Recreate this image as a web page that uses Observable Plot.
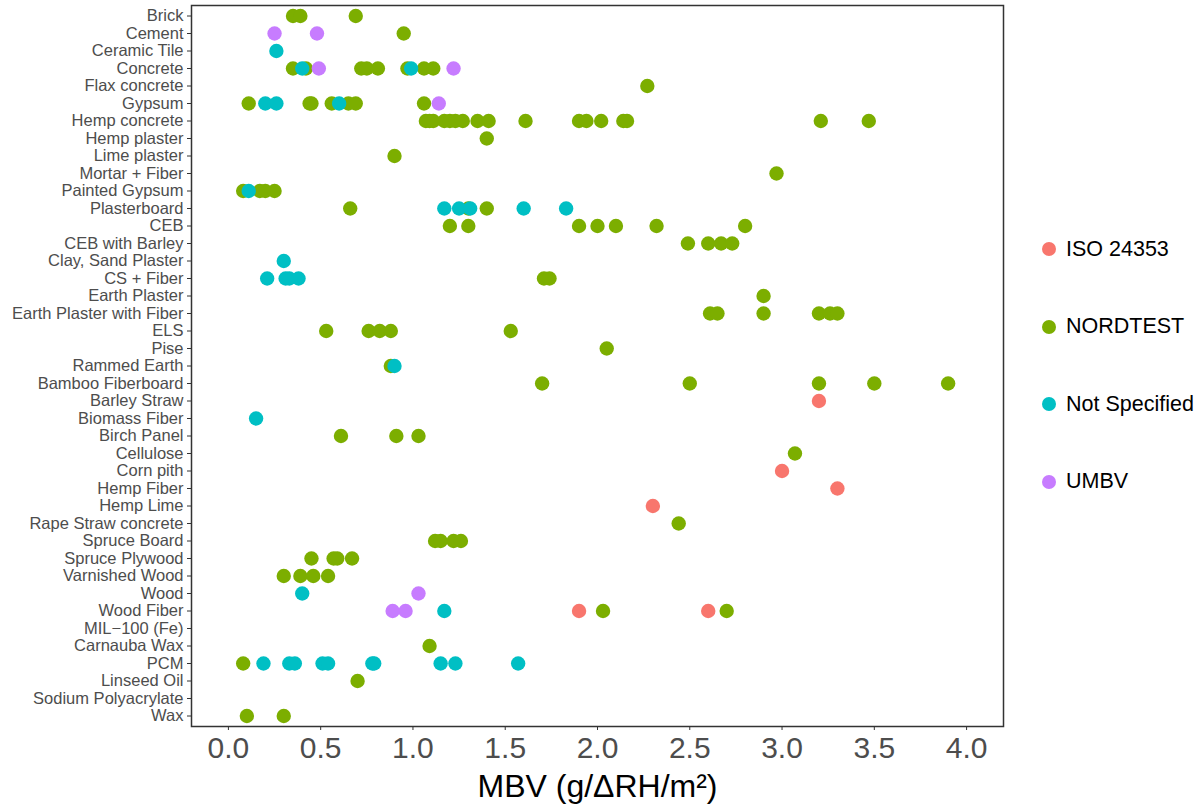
<!DOCTYPE html>
<html>
<head>
<meta charset="utf-8">
<script src="https://cdn.jsdelivr.net/npm/d3@7"></script>
<script src="https://cdn.jsdelivr.net/npm/@observablehq/plot@0.6"></script>
<style>
  html, body { margin: 0; padding: 0; background: #fff; }
  #wrap { position: relative; width: 1203px; height: 811px; font-family: "Liberation Sans", Arial, Helvetica, sans-serif; }
  #wrap svg [aria-label="y-axis tick label"] text,
  #wrap svg [aria-label="x-axis tick label"] text { fill: #4d4d4d; }
  #wrap svg [aria-label="y-axis tick"] path,
  #wrap svg [aria-label="x-axis tick"] path { stroke: #333; }
  #legend { position: absolute; left: 1042px; top: 0; }
  .item { position: absolute; display: flex; align-items: center; white-space: nowrap; font-size: 21.5px; color: #000; }
  .sw { width: 14px; height: 14px; border-radius: 50%; margin-right: 10px; }
</style>
</head>
<body>
<div id="wrap"><div id="legend"></div></div>
<script>
const categories = ["Brick","Cement","Ceramic Tile","Concrete","Flax concrete","Gypsum","Hemp concrete","Hemp plaster","Lime plaster","Mortar + Fiber","Painted Gypsum","Plasterboard","CEB","CEB with Barley","Clay, Sand Plaster","CS + Fiber","Earth Plaster","Earth Plaster with Fiber","ELS","Pise","Rammed Earth","Bamboo Fiberboard","Barley Straw","Biomass Fiber","Birch Panel","Cellulose","Corn pith","Hemp Fiber","Hemp Lime","Rape Straw concrete","Spruce Board","Spruce Plywood","Varnished Wood","Wood","Wood Fiber","MIL\u2212100 (Fe)","Carnauba Wax","PCM","Linseed Oil","Sodium Polyacrylate","Wax"];

const methods = ["ISO 24353", "NORDTEST", "Not Specified", "UMBV"];
const methodColors = ["#F8766D", "#7CAE00", "#00BFC4", "#C77CFF"];

const xTicks = [0, 0.5, 1, 1.5, 2, 2.5, 3, 3.5, 4];
const xLabel = "MBV (g/\u0394RH/m\u00B2)";

const nordtest = [
  ["Brick",0.35],["Brick",0.39],["Brick",0.69],
  ["Cement",0.95],
  ["Concrete",0.35],["Concrete",0.42],["Concrete",0.72],["Concrete",0.75],["Concrete",0.81],["Concrete",0.97],["Concrete",1.06],["Concrete",1.11],
  ["Flax concrete",2.27],
  ["Gypsum",0.11],["Gypsum",0.44],["Gypsum",0.45],["Gypsum",0.56],["Gypsum",0.65],["Gypsum",0.69],["Gypsum",1.06],
  ["Hemp concrete",1.07],["Hemp concrete",1.09],["Hemp concrete",1.11],["Hemp concrete",1.17],["Hemp concrete",1.20],["Hemp concrete",1.23],["Hemp concrete",1.27],["Hemp concrete",1.35],["Hemp concrete",1.41],["Hemp concrete",1.61],["Hemp concrete",1.90],["Hemp concrete",1.94],["Hemp concrete",2.02],["Hemp concrete",2.14],["Hemp concrete",2.16],["Hemp concrete",3.21],["Hemp concrete",3.47],
  ["Hemp plaster",1.40],
  ["Lime plaster",0.90],
  ["Mortar + Fiber",2.97],
  ["Painted Gypsum",0.08],["Painted Gypsum",0.17],["Painted Gypsum",0.20],["Painted Gypsum",0.25],
  ["Plasterboard",0.66],["Plasterboard",1.30],["Plasterboard",1.40],
  ["CEB",1.20],["CEB",1.30],["CEB",1.90],["CEB",2.00],["CEB",2.10],["CEB",2.32],["CEB",2.80],
  ["CEB with Barley",2.49],["CEB with Barley",2.60],["CEB with Barley",2.67],["CEB with Barley",2.73],
  ["CS + Fiber",1.71],["CS + Fiber",1.74],
  ["Earth Plaster",2.90],
  ["Earth Plaster with Fiber",2.61],["Earth Plaster with Fiber",2.65],["Earth Plaster with Fiber",2.90],["Earth Plaster with Fiber",3.20],["Earth Plaster with Fiber",3.26],["Earth Plaster with Fiber",3.30],
  ["ELS",0.53],["ELS",0.76],["ELS",0.82],["ELS",0.88],["ELS",1.53],
  ["Pise",2.05],
  ["Rammed Earth",0.88],
  ["Bamboo Fiberboard",1.70],["Bamboo Fiberboard",2.50],["Bamboo Fiberboard",3.20],["Bamboo Fiberboard",3.50],["Bamboo Fiberboard",3.90],
  ["Birch Panel",0.61],["Birch Panel",0.91],["Birch Panel",1.03],
  ["Cellulose",3.07],
  ["Rape Straw concrete",2.44],
  ["Spruce Board",1.12],["Spruce Board",1.15],["Spruce Board",1.22],["Spruce Board",1.26],
  ["Spruce Plywood",0.45],["Spruce Plywood",0.57],["Spruce Plywood",0.59],["Spruce Plywood",0.67],
  ["Varnished Wood",0.30],["Varnished Wood",0.39],["Varnished Wood",0.46],["Varnished Wood",0.54],
  ["Wood Fiber",2.03],["Wood Fiber",2.70],
  ["Carnauba Wax",1.09],
  ["PCM",0.08],
  ["Linseed Oil",0.70],
  ["Wax",0.10],["Wax",0.30]
];

const notSpecified = [
  ["Ceramic Tile",0.26],
  ["Concrete",0.40],["Concrete",0.99],
  ["Gypsum",0.20],["Gypsum",0.26],["Gypsum",0.60],
  ["Painted Gypsum",0.11],
  ["Plasterboard",1.17],["Plasterboard",1.25],["Plasterboard",1.31],["Plasterboard",1.60],["Plasterboard",1.83],
  ["Clay, Sand Plaster",0.30],
  ["CS + Fiber",0.21],["CS + Fiber",0.31],["CS + Fiber",0.33],["CS + Fiber",0.38],
  ["Rammed Earth",0.90],
  ["Biomass Fiber",0.15],
  ["Wood",0.40],
  ["Wood Fiber",1.17],
  ["PCM",0.19],["PCM",0.33],["PCM",0.36],["PCM",0.51],["PCM",0.54],["PCM",0.78],["PCM",0.79],["PCM",1.15],["PCM",1.23],["PCM",1.57]
];

const iso24353 = [
  ["Barley Straw",3.20],
  ["Corn pith",3.00],
  ["Hemp Fiber",3.30],
  ["Hemp Lime",2.30],
  ["Wood Fiber",1.90],["Wood Fiber",2.60]
];

const umbv = [
  ["Cement",0.25],["Cement",0.48],
  ["Concrete",0.49],["Concrete",1.22],
  ["Gypsum",1.14],
  ["Wood",1.03],
  ["Wood Fiber",0.89],["Wood Fiber",0.96]
];

const toRows = (arr, method) => arr.map(([category, value]) => ({category, value, method}));
const rows = [
  ...toRows(nordtest, "NORDTEST"),
  ...toRows(notSpecified, "Not Specified"),
  ...toRows(iso24353, "ISO 24353"),
  ...toRows(umbv, "UMBV")
];

const chart = Plot.plot({
  width: 1203,
  height: 811,
  marginLeft: 191,
  marginRight: 200,
  marginTop: 5,
  marginBottom: 85,
  style: {fontFamily: "'Liberation Sans', Arial, Helvetica, sans-serif", background: "#fff", overflow: "visible"},
  x: {domain: [-0.2, 4.2]},
  y: {type: "point", domain: categories, padding: 0.6, round: false},
  color: {domain: methods, range: methodColors},
  marks: [
    Plot.frame({stroke: "#333", strokeWidth: 1.5}),
    Plot.axisY({tickSize: 4, tickPadding: 4, fontSize: 16.5, label: null}),
    Plot.axisX({ticks: xTicks, tickFormat: d => d.toFixed(1), tickSize: 4, tickPadding: 6, fontSize: 30, label: null}),
    Plot.text([xLabel], {frameAnchor: "bottom", dy: 70, fontSize: 32, fill: "#000"}),
    Plot.dot(rows, {x: "value", y: "category", fill: "method", r: 7.2})
  ]
});
document.getElementById("wrap").prepend(chart);

const legend = document.getElementById("legend");
methods.forEach((m, i) => {
  const item = document.createElement("div");
  item.className = "item";
  item.style.top = (249 - 13 + i * 77.6) + "px";
  item.style.height = "26px";
  const sw = document.createElement("span");
  sw.className = "sw";
  sw.style.background = methodColors[i];
  const label = document.createElement("span");
  label.textContent = m;
  item.append(sw, label);
  legend.append(item);
});
</script>
</body>
</html>
